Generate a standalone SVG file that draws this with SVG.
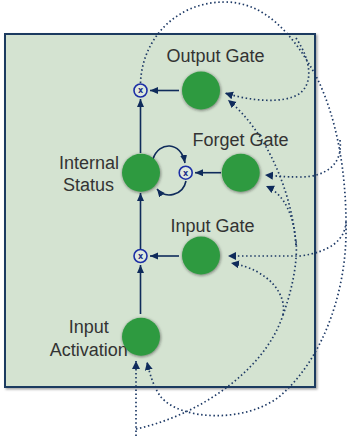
<svg xmlns="http://www.w3.org/2000/svg" width="347" height="443" viewBox="0 0 347 443">
<style>
.lbl{font-family:"Liberation Sans",Arial,sans-serif;font-size:18px;fill:#333333;text-anchor:middle}
.gate{fill:#2f9a41;filter:url(#sh)}
.mul{fill:#dfe9dd;stroke:#1c2fa6;stroke-width:1.6}
.mx{font-family:"DejaVu Sans",sans-serif;font-size:8px;font-weight:bold;fill:#1c2f8a;text-anchor:middle}
.solid{fill:none;stroke:#0f2b5b;stroke-width:1.6;marker-end:url(#ah)}
.dot{fill:none;stroke:#1e3a66;stroke-width:1.7;stroke-dasharray:1.5 2.6}
.dota{marker-end:url(#ahd)}
</style>
<defs>
<filter id="sh" x="-30%" y="-30%" width="160%" height="160%">
<feDropShadow dx="0.5" dy="0.8" stdDeviation="1.4" flood-color="#222" flood-opacity="0.6"/>
</filter>
<filter id="bsh" x="-5%" y="-5%" width="110%" height="110%">
<feDropShadow dx="1.5" dy="1.5" stdDeviation="1.2" flood-color="#000" flood-opacity="0.35"/>
</filter>
<marker id="ah" markerUnits="userSpaceOnUse" markerWidth="9" markerHeight="8" refX="8" refY="3.5" orient="auto">
<path d="M0,0 L8,3.5 L0,7 z" fill="#0f2b5b"/>
</marker>
<marker id="ahd" markerUnits="userSpaceOnUse" markerWidth="10" markerHeight="9" refX="8" refY="4" orient="auto">
<path d="M0,0 L8,4 L0,8 z" fill="#0f2b5b"/>
</marker>
</defs>

<rect id="cell" x="5" y="34" width="310" height="353" fill="#d4e3d1" stroke="#1f3a60" stroke-width="2" filter="url(#bsh)"/>

<g id="connectors">
<line class="solid" x1="179" y1="90.5" x2="150" y2="90.5"/>
<line class="solid" x1="140.5" y1="153" x2="140.5" y2="99"/>
<line class="solid" x1="221" y1="172.7" x2="195" y2="172.7"/>
<line class="solid" x1="179" y1="256" x2="150" y2="256"/>
<line class="solid" x1="140.5" y1="263" x2="140.5" y2="193"/>
<line class="solid" x1="140.5" y1="314" x2="140.5" y2="265"/>
<path class="solid" d="M153,159 C159,141 181,141 185,163"/>
<path class="solid" d="M186,181 C183,196 165,199 157,189"/>
<path class="dot dota" d="M140.5,83 C142,40 175,2 225,2 C262,2 292,30 318,80 C336,118 347,170 346,235 C345,295 322,360 280,396 C245,424 180,420 161,397 C154,388 150,375 147,362"/>
<path class="dot dota" d="M296,38 C312,62 313,84 299,94 C283,104 250,101 225,93"/>
<path class="dot dota" d="M340,140 C343,165 325,177 300,177 C285,177 276,176 265,175"/>
<path class="dot dota" d="M346,222 C345,240 330,252 300,256 L228,256"/>
<path class="dot dota" d="M136,436 L136,361"/>
<path class="dot" d="M136,429 C200,415 265,370 283,315"/>
<path class="dot dota" d="M283,315 C287,295 270,270 231,263"/>
<path class="dot" d="M283,315 C292,290 298,262 296,240"/>
<path class="dot dota" d="M296,245 C294,215 285,195 266,186"/>
<path class="dot dota" d="M296,245 C292,190 265,130 228,100"/>
</g>

<g id="output_gate">
<text class="lbl" x="215.5" y="61.5">Output Gate</text>
<circle class="gate" cx="201" cy="90.5" r="19"/>
</g>
<g id="mul_output">
<circle class="mul" cx="140.5" cy="90.5" r="6.5"/>
<text class="mx" x="140.5" y="93.3">x</text>
</g>
<g id="forget_gate">
<text class="lbl" x="240.5" y="145.7">Forget Gate</text>
<circle class="gate" cx="240.7" cy="172.7" r="19"/>
</g>
<g id="mul_forget">
<circle class="mul" cx="185.7" cy="172.7" r="6.5"/>
<text class="mx" x="185.7" y="175.5">x</text>
</g>
<g id="internal_status">
<text class="lbl" x="89" y="169.3">Internal</text>
<text class="lbl" x="88.5" y="190.7">Status</text>
<circle class="gate" cx="141" cy="172.7" r="19"/>
</g>
<g id="input_gate">
<text class="lbl" x="212.5" y="231.7">Input Gate</text>
<circle class="gate" cx="201" cy="255.5" r="19"/>
</g>
<g id="mul_input">
<circle class="mul" cx="140.5" cy="256" r="6.5"/>
<text class="mx" x="140.5" y="258.8">x</text>
</g>
<g id="input_activation">
<text class="lbl" x="88.8" y="332.7">Input</text>
<text class="lbl" x="88.8" y="355.7">Activation</text>
<circle class="gate" cx="141" cy="336.7" r="19"/>
</g>
</svg>
